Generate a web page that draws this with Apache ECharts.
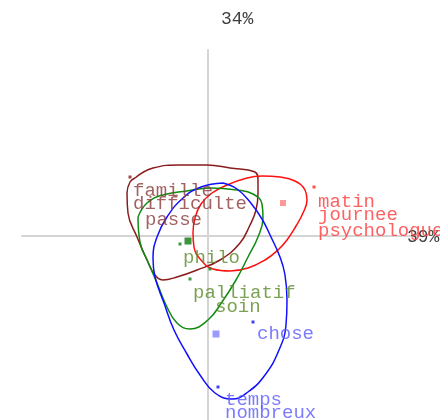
<!DOCTYPE html>
<html><head><meta charset="utf-8">
<script src="https://cdn.jsdelivr.net/npm/echarts@6/dist/echarts.min.js"></script>
<style>html,body{margin:0;padding:0;background:#fff}#c{width:440px;height:420px}</style>
</head><body><div id="c"></div>
<script>
// Axis titles (inertia percentages)
const axisX = '39%';
const axisY = '34%';

// Cluster contours (factor coordinates)
const contourBrown = [[-0.73,0.58],[-0.55,0.68],[-0.28,0.71],[-0.01,0.71],[0.22,0.68],[0.47,0.64],[0.50,0.56],[0.50,0.43],[0.48,0.26],[0.42,0.11],[0.32,-0.07],[0.12,-0.24],[-0.11,-0.34],[-0.31,-0.41],[-0.45,-0.44],[-0.53,-0.39],[-0.61,-0.24],[-0.71,-0.01],[-0.80,0.23],[-0.81,0.43],[-0.78,0.54],[-0.73,0.58]];
const contourRed = [[0.19,0.51],[0.39,0.58],[0.54,0.60],[0.72,0.59],[0.87,0.55],[0.97,0.46],[0.99,0.36],[0.95,0.23],[0.88,0.10],[0.79,-0.04],[0.70,-0.14],[0.57,-0.24],[0.40,-0.32],[0.22,-0.35],[0.05,-0.33],[-0.07,-0.24],[-0.14,-0.11],[-0.15,0.03],[-0.13,0.18],[-0.07,0.32],[0.04,0.43],[0.19,0.51]];
const contourGreen = [[-0.70,0.19],[-0.61,0.33],[-0.45,0.41],[-0.21,0.45],[0.02,0.48],[0.29,0.46],[0.45,0.42],[0.54,0.32],[0.55,0.18],[0.50,-0.01],[0.40,-0.21],[0.28,-0.44],[0.14,-0.66],[0.00,-0.84],[-0.18,-0.93],[-0.31,-0.87],[-0.42,-0.69],[-0.51,-0.47],[-0.60,-0.26],[-0.68,-0.06],[-0.70,0.19]];
const contourBlue = [[0.15,0.53],[0.29,0.47],[0.42,0.34],[0.54,0.17],[0.63,-0.01],[0.72,-0.21],[0.77,-0.39],[0.79,-0.64],[0.78,-0.89],[0.71,-1.14],[0.57,-1.39],[0.40,-1.56],[0.24,-1.63],[0.07,-1.57],[-0.08,-1.39],[-0.21,-1.18],[-0.34,-0.94],[-0.44,-0.67],[-0.53,-0.41],[-0.55,-0.22],[-0.51,-0.01],[-0.41,0.19],[-0.25,0.38],[-0.07,0.49],[0.15,0.53]];

// Class centres
const centreRed = [[0.75,0.33]];
const centreGreen = [[-0.20,-0.05]];
const centreBlue = [[0.08,-0.98]];

// Word points
const pointsBrown = [[-0.78,0.59]];
const pointsRed = [[1.06,0.49]];
const pointsGreen = [[-0.28,-0.08],[0.02,-0.33],[-0.18,-0.43]];
const pointsBlue = [[0.45,-0.86],[0.10,-1.51]];

// Word labels
const wordsBrown = ['famille','difficulte','passe'];
const posBrown = [[-0.75,0.45],[-0.75,0.32],[-0.63,0.16]];
const wordsRed = ['matin','journee','psychologue'];
const posRed = [[1.10,0.34],[1.10,0.21],[1.10,0.05]];
const wordsGreen = ['philo','palliatif','soin'];
const posGreen = [[-0.25,-0.22],[-0.15,-0.57],[0.07,-0.71]];
const wordsBlue = ['chose','temps','nombreux'];
const posBlue = [[0.49,-0.98],[0.17,-1.64],[0.17,-1.77]];

const chart = echarts.init(document.getElementById('c'), null, {renderer:'canvas'});

function contour(data, color){
  return {type:'line', data:data, smooth:0.45, showSymbol:false, silent:true,
    lineStyle:{color:color, width:1.5}, z:2};
}
function pts(data, color, size){
  return {type:'scatter', data:data, symbol:'rect', symbolSize:size, silent:true,
    itemStyle:{color:color}, z:3};
}
function labels(words, pos, color, shadow){
  return {type:'scatter', symbolSize:0, silent:true, z:5,
    data: words.map((w,i)=>({value:pos[i], name:w})),
    label:{show:true, position:'right', distance:0, formatter:p=>p.name,
      fontFamily:'Liberation Mono', fontSize:19, color:color,
      textShadowColor:shadow, textShadowBlur:0, textShadowOffsetX:1, textShadowOffsetY:1}};
}

chart.setOption({
  animation:false,
  grid:{left:22, right:20, top:50, bottom:0},
  xAxis:{type:'value', min:-1.86, max:2.12, splitLine:{show:false}, axisTick:{show:false}, axisLabel:{show:false},
    axisLine:{onZero:true, lineStyle:{color:'#d4d4d4', width:2}}},
  yAxis:{type:'value', min:-1.84, max:1.86, splitLine:{show:false}, axisTick:{show:false}, axisLabel:{show:false},
    axisLine:{onZero:true, lineStyle:{color:'#d4d4d4', width:2}}},
  graphic:[
    {type:'text', left:221, top:10, z:10, style:{text:axisY, font:'18px "Liberation Mono"', fill:'#404040'}},
    {type:'text', left:407, top:228, z:1, style:{text:axisX, font:'18px "Liberation Mono"', fill:'#404040'}}
  ],
  series:[
    contour(contourBrown, '#8b1c1c'),
    contour(contourRed, '#ff1010'),
    contour(contourGreen, '#108a10'),
    contour(contourBlue, '#1010ff'),
    pts(pointsBrown, '#8b1c1c', 3),
    pts(pointsRed, '#ff2020', 3),
    pts(pointsGreen, '#108010', 3),
    pts(pointsBlue, '#1010ff', 3),
    pts(centreRed, '#ff8080', 6),
    pts(centreGreen, '#0a7a0a', 7),
    pts(centreBlue, '#8080ff', 7),
    labels(wordsBrown, posBrown, '#8b3a3a', 'rgba(230,160,160,0.7)'),
    labels(wordsRed, posRed, '#ff3a3a', 'rgba(255,170,90,0.7)'),
    labels(wordsGreen, posGreen, '#5a8a2a', 'rgba(220,190,80,0.7)'),
    labels(wordsBlue, posBlue, '#5a5aff', 'rgba(200,140,255,0.7)')
  ]
});
</script></body></html>
